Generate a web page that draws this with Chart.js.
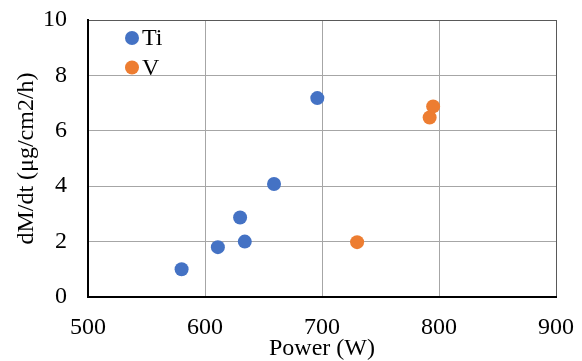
<!DOCTYPE html>
<html>
<head>
<meta charset="UTF-8">
<script src="https://cdn.jsdelivr.net/npm/chart.js"></script>
<style>
  html, body { margin: 0; padding: 0; background: #fff; }
  #wrap { width: 582px; height: 361px; }
</style>
</head>
<body>
<div id="wrap"><canvas id="chart"></canvas></div>
<script>
// datos
const seriesNames = ['Ti', 'V'];
const tiPower = [580, 611, 630, 634, 659, 696];
const tiRate  = [1.0, 1.8, 2.87, 2.0, 4.08, 7.18];
const vPower  = [730, 792, 795];
const vRate   = [1.98, 6.48, 6.88];
const colors  = ['#4472C4', '#ED7D31'];

const FONT = '"Liberation Serif", "Times New Roman", serif';

function toPoints(xs, ys) {
    return xs.map((x, i) => ({ x: x, y: ys[i] }));
}

// leyenda dentro del area del grafico
const insideLegend = {
    id: 'insideLegend',
    afterDraw(chart) {
        const c = chart.ctx, a = chart.chartArea;
        c.save();
        c.font = '24px ' + FONT;
        c.textBaseline = 'middle';
        chart.data.datasets.forEach((ds, i) => {
            const y = a.top + 18 + i * 29.5;
            c.fillStyle = ds.backgroundColor;
            c.beginPath();
            c.arc(a.left + 44, y, 7, 0, Math.PI * 2);
            c.fill();
            c.fillStyle = '#000';
            c.fillText(ds.label, a.left + 54, y + 1);
        });
        c.restore();
    }
};

new Chart(document.getElementById('chart'), {
    type: 'scatter',
    data: {
        datasets: [
            { label: seriesNames[0], data: toPoints(tiPower, tiRate), backgroundColor: colors[0], borderWidth: 0, pointRadius: 7 },
            { label: seriesNames[1], data: toPoints(vPower, vRate), backgroundColor: colors[1], borderWidth: 0, pointRadius: 7 }
        ]
    },
    options: {
        responsive: true,
        maintainAspectRatio: false,
        animation: false,
        layout: { padding: { top: 20, right: 26, left: 0, bottom: 0 } },
        plugins: { legend: { display: false }, tooltip: { enabled: false } },
        scales: {
            x: {
                min: 500, max: 900,
                ticks: { stepSize: 100, color: '#000', font: { family: FONT, size: 24 }, padding: 16 },
                grid: {
                    drawTicks: false,
                    color: ctx => ctx.tick && ctx.tick.value === 900 ? '#595959' : '#a6a6a6'
                },
                border: { color: '#000', width: 2 },
                title: { display: true, text: 'Power (W)', color: '#000', font: { family: FONT, size: 24, lineHeight: 1 }, padding: { top: 0, bottom: 0 } },
                afterFit(s) { s.height = 64; s.paddingLeft = 0; s.paddingRight = 0; }
            },
            y: {
                min: 0, max: 10,
                ticks: { stepSize: 2, color: '#000', font: { family: FONT, size: 24 }, padding: 21 },
                grid: {
                    drawTicks: false,
                    color: ctx => ctx.tick && ctx.tick.value === 10 ? '#595959' : '#a6a6a6'
                },
                border: { color: '#000', width: 2 },
                title: { display: true, text: 'dM/dt (μg/cm2/h)', color: '#000', font: { family: FONT, size: 24, lineHeight: 1 }, padding: { top: 15, bottom: 0 } },
                afterFit(s) { s.width = 88; s.paddingTop = 0; s.paddingBottom = 0; }
            }
        }
    },
    plugins: [insideLegend]
});
</script>
</body>
</html>
